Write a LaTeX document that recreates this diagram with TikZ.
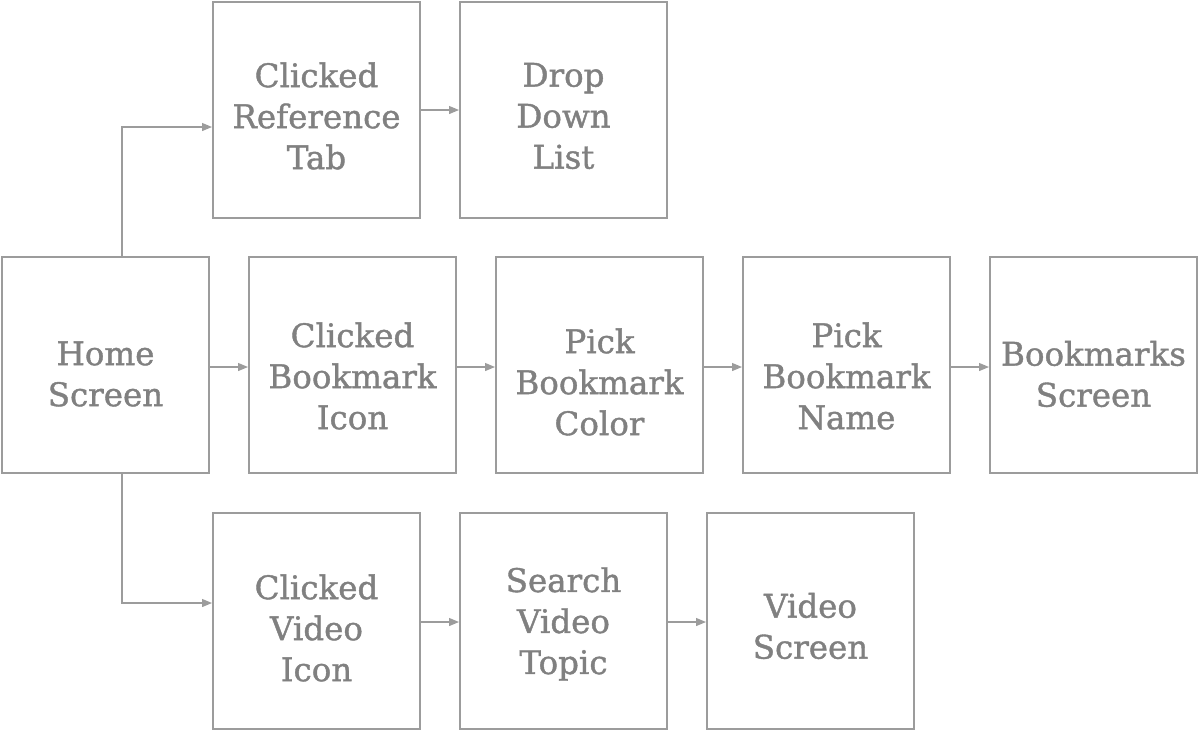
\documentclass[tikz,border=0pt]{standalone}
\usepackage{fontspec}
\setmainfont{DejaVu Serif}
\usetikzlibrary{arrows.meta}
\definecolor{boxc}{HTML}{9C9C9C}
\definecolor{txtc}{HTML}{808080}
\begin{document}
\begin{tikzpicture}[x=1pt,y=-1pt,
  box/.style={draw=boxc,line width=2pt,minimum width=207pt,minimum height=216pt,inner sep=0pt},
  lbl/.style={text=txtc,font=\fontsize{32.5}{41}\selectfont\addfontfeature{FakeBold=1.2},align=center},
  conn/.style={draw=boxc,line width=1.2pt,-{Triangle[length=10pt,width=8pt]}}]
\useasboundingbox (0,0) rectangle (1200,732);
% boxes
\node[box] (ref) at (316.5,109.5) {};
\node[box] (drop) at (563.5,109.5) {};
\node[box] (home) at (105.5,365) {};
\node[box] (cbi) at (352.5,365) {};
\node[box] (pbc) at (599.5,365) {};
\node[box] (pbn) at (846.5,365) {};
\node[box] (bms) at (1093.5,365) {};
\node[box] (cvi) at (316.5,620.5) {};
\node[box] (svt) at (563.5,620.5) {};
\node[box] (vs) at (810.5,620.5) {};
% labels
\node[lbl] at (316.5,116) {Clicked\\Reference\\Tab};
\node[lbl] at (563.5,116) {Drop\\Down\\List};
\node[lbl] at (105.5,374) {Home\\Screen};
\node[lbl] at (352.5,376) {Clicked\\Bookmark\\Icon};
\node[lbl] at (599.5,382) {Pick\\Bookmark\\Color};
\node[lbl] at (846.5,376) {Pick\\Bookmark\\Name};
\node[lbl] at (1093.5,374) {Bookmarks\\Screen};
\node[lbl] at (316.5,628) {Clicked\\Video\\Icon};
\node[lbl] at (563.5,624) {Search\\Video\\Topic};
\node[lbl] at (810.5,626) {Video\\Screen};
% connectors
\draw[conn] (home.north -| 122,0) |- (ref.west |- 0,127);
\draw[conn] (home.south -| 122,0) |- (cvi.west |- 0,603);
\draw[conn] (ref.east |- 0,110) -- (drop.west |- 0,110);
\draw[conn] (home.east |- 0,367) -- (cbi.west |- 0,367);
\draw[conn] (cbi.east |- 0,367) -- (pbc.west |- 0,367);
\draw[conn] (pbc.east |- 0,367) -- (pbn.west |- 0,367);
\draw[conn] (pbn.east |- 0,367) -- (bms.west |- 0,367);
\draw[conn] (cvi.east |- 0,622) -- (svt.west |- 0,622);
\draw[conn] (svt.east |- 0,622) -- (vs.west |- 0,622);
\end{tikzpicture}
\end{document}
